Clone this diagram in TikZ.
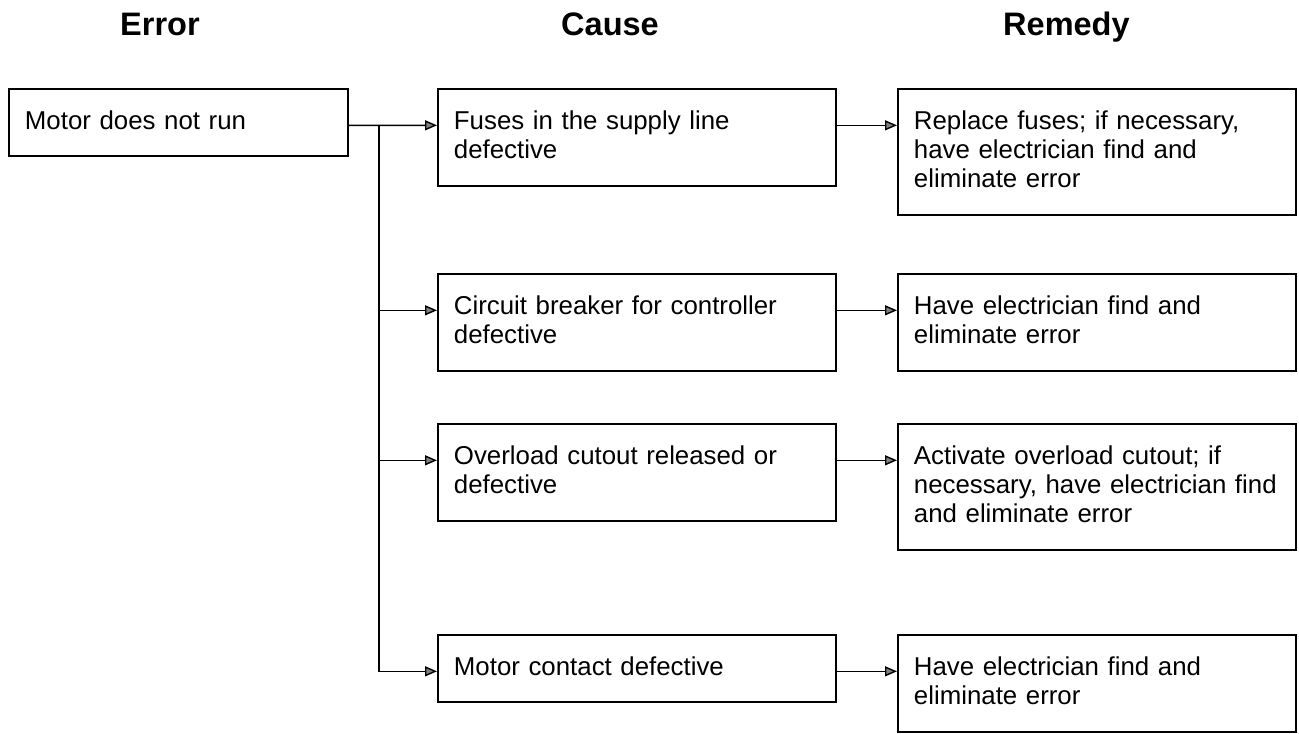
\documentclass[tikz,border=0pt]{standalone}
\usepackage{fontspec}
\setmainfont{Liberation Sans}
\usetikzlibrary{arrows.meta, positioning}
\tikzset{
	headline/.style={font=\fontsize{18.5}{22}\selectfont\bfseries, anchor=base west},
	cellbox/.style={rectangle, draw=black, line width=1.1pt, anchor=north west, align=left, inner xsep=0.32cm, inner ysep=0pt, text height=0.82cm, font=\fontsize{14.7}{16.5}\selectfont},
	oneline/.style={text depth=0.52cm},
	twoline/.style={text depth=1.12cm},
	threeline/.style={text depth=1.70cm},
	causebox/.style={cellbox, text width=7.32cm},
	fixbox/.style={cellbox, text width=7.32cm},
	branch/.style={-{Triangle[length=0.24cm, width=0.2cm, fill=black!50]}, line width=0.8pt},
}

\begin{document}
\begin{tikzpicture}[x=0.02cm, y=-0.02cm]
	\useasboundingbox (0,0) rectangle (1299,734);
	% column heads
	\node[headline] (hErr) at (114,35) {Error};
	\node[headline] (hCause) at (555,35) {Cause};
	\node[headline] (hFix) at (997,35) {Remedy};
	% error
	\node[cellbox, oneline, text width=6.14cm] (err) at (8,88) {Motor does not run};
	% causes
	\node[causebox, twoline] (fuse) at (437,88) {Fuses in the supply line\\defective};
	\node[causebox, twoline] (brk) at (437,273) {Circuit breaker for controller\\defective};
	\node[causebox, twoline] (ovl) at (437,423) {Overload cutout released or\\defective};
	\node[causebox, oneline] (cont) at (437,634) {Motor contact defective};
	% remedies
	\node[fixbox, threeline] (fixFuse) at (897,88) {Replace fuses; if necessary,\\have electrician find and\\eliminate error};
	\node[fixbox, twoline] (fixBrk) at (897,273) {Have electrician find and\\eliminate error};
	\node[fixbox, threeline] (fixOvl) at (897,423) {Activate overload cutout; if\\necessary, have electrician find\\and eliminate error};
	\node[fixbox, twoline] (fixCont) at (897,634) {Have electrician find and\\eliminate error};
	% fork from error to causes
	\path (err.mid east) ++(30,0) coordinate (fork);
	\draw[branch] (err.mid east) -- (fuse.mid west);
	\draw[branch] (fork |- brk.mid west) -- (brk.mid west);
	\draw[branch] (fork |- ovl.mid west) -- (ovl.mid west);
	\draw[branch] (fork) |- (cont.mid west);
	% causes to remedies
	\draw[branch] (fuse.mid east) -- (fuse.mid east -| fixFuse.west);
	\draw[branch] (brk.mid east) -- (brk.mid east -| fixBrk.west);
	\draw[branch] (ovl.mid east) -- (ovl.mid east -| fixOvl.west);
	\draw[branch] (cont.mid east) -- (cont.mid east -| fixCont.west);
\end{tikzpicture}
\end{document}
